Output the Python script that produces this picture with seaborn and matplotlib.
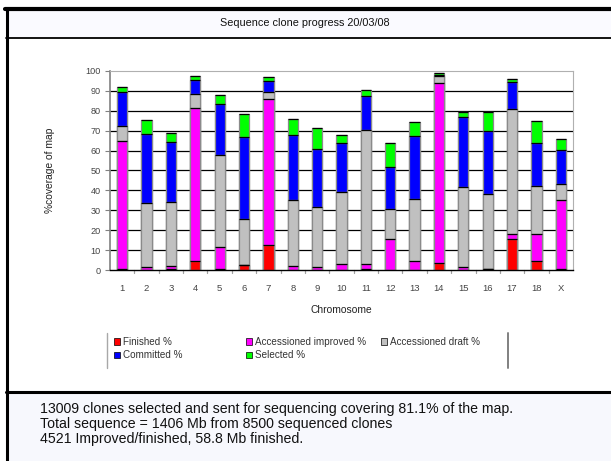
import numpy as np
import pandas as pd
import matplotlib
matplotlib.use("Agg")
import matplotlib.pyplot as plt
from matplotlib.patches import Rectangle, Patch
from matplotlib.lines import Line2D
import seaborn as sns

chromosomes = [str(i) for i in range(1, 19)] + ["X"]

finished = [0.5, 0.0, 0.5, 4.5, 0.3, 2.3, 12.6, 0.0, 0.0, 0.0, 0.5, 0.0, 0.0, 3.5, 0.0, 0.5, 15.4, 4.4, 0.3]
acc_improved = [64.2, 1.7, 1.5, 76.7, 11.4, 0.0, 73.2, 1.8, 1.5, 3.2, 2.3, 15.6, 4.4, 90.3, 1.4, 0.0, 2.5, 13.5, 34.9]
acc_draft = [7.7, 32.1, 32.3, 7.0, 46.3, 23.5, 3.5, 33.4, 30.2, 35.8, 67.4, 15.2, 31.4, 3.9, 40.2, 37.9, 63.1, 24.3, 8.2]
committed = [17.0, 34.4, 30.0, 7.4, 25.2, 40.9, 5.5, 32.5, 28.9, 24.8, 17.2, 20.8, 31.5, 0.3, 35.4, 31.3, 13.3, 21.5, 16.7]
selected = [2.4, 7.0, 4.4, 1.9, 4.8, 11.5, 2.0, 8.2, 10.9, 3.9, 3.1, 12.1, 6.9, 0.8, 2.6, 9.9, 1.7, 11.0, 5.6]

series_names = ["Finished %", "Accessioned improved %", "Accessioned draft %", "Committed %", "Selected %"]
series_colors = ["#ff0000", "#ff00ff", "#c0c0c0", "#0000ff", "#00ff00"]
y_ticks = list(range(0, 101, 10))

title_text = "Sequence clone progress 20/03/08"
footer_lines = [
    "13009 clones selected and sent for sequencing covering 81.1% of the map.",
    "Total sequence = 1406 Mb from 8500 sequenced clones",
    "4521 Improved/finished, 58.8 Mb finished.",
]

sns.set_theme(style="white")
plt.rcParams["font.family"] = ["Liberation Sans", "DejaVu Sans"]

W, H = 611, 461
fig = plt.figure(figsize=(W / 100, H / 100), dpi=100)
fig.patch.set_facecolor("white")


def fx(px):
    return px / W


def fy(py):
    return 1 - py / H


# slide-style panels: title strip and footer strip
fig.add_artist(Rectangle((fx(6), fy(38)), fx(605), fy(9) - fy(38),
                         transform=fig.transFigure, facecolor="#fafaff", edgecolor="none", zorder=0))
fig.add_artist(Rectangle((fx(6), fy(461)), fx(605), fy(392) - fy(461),
                         transform=fig.transFigure, facecolor="#f7f8fd", edgecolor="none", zorder=0))
fig.add_artist(Line2D([fx(5), 1], [fy(9), fy(9)], transform=fig.transFigure, color="black", lw=3))
fig.add_artist(Line2D([fx(6.5), fx(6.5)], [fy(9), 0], transform=fig.transFigure, color="black", lw=2.2))
fig.add_artist(Line2D([fx(6), 1], [fy(38), fy(38)], transform=fig.transFigure, color="black", lw=1.3))
fig.add_artist(Line2D([fx(6), 1], [fy(392), fy(392)], transform=fig.transFigure, color="black", lw=2.2))

fig.text(fx(305), fy(23), title_text, ha="center", va="center", fontsize=7.8, color="#111111")
for i, line in enumerate(footer_lines):
    fig.text(fx(40), fy(409 + 15 * i), line, ha="left", va="center", fontsize=10.2, color="#111111")

ax = fig.add_axes([fx(110), fy(270), fx(573) - fx(110), fy(71) - fy(270)])
ax.set_facecolor("white")

layers = np.cumsum(np.array([finished, acc_improved, acc_draft, committed, selected]), axis=0)
df = pd.DataFrame({"Chromosome": chromosomes})
for name, row in zip(series_names, layers):
    df[name] = row

# horizontal gridlines behind the bars
for t in y_ticks[1:-1]:
    ax.axhline(t, color="black", lw=0.9, zorder=0)

containers = []
for name, color in reversed(list(zip(series_names, series_colors))):
    sns.barplot(data=df, x="Chromosome", y=name, order=chromosomes, color=color,
                width=0.42, edgecolor="#8a8a8a", linewidth=0.9, saturation=1,
                ax=ax, zorder=2)
    containers.append(ax.containers[-1])

# black dividing line on top of every stacked segment
for cont in containers:
    for p in cont.patches:
        h = p.get_height()
        if h > 0:
            ax.hlines(h, p.get_x(), p.get_x() + p.get_width(), color="black", lw=0.9, zorder=3)

ax.set_ylim(0, 100)
ax.set_xlim(-0.5, len(chromosomes) - 0.5)
ax.set_yticks(y_ticks)
ax.set_yticklabels([str(t) for t in y_ticks], fontsize=6.6, color="#444444")
ax.set_xticks(range(len(chromosomes)))
ax.set_xticklabels(chromosomes, fontsize=6.8, color="#444444")
ax.tick_params(axis="x", length=0, pad=10)
ax.tick_params(axis="y", length=3.5, width=0.8, color="#808080", pad=3, left=True)
for xb in np.arange(0.5, len(chromosomes) - 0.5, 1.0):
    ax.plot([xb, xb], [0, -1.5], color="#a0a0a0", lw=0.9, clip_on=False, zorder=1)

ax.set_xlabel("Chromosome", fontsize=7.4, color="#222222", labelpad=9)
ax.set_ylabel("%coverage of map", fontsize=7.4, color="#222222", labelpad=22)

for side in ["top", "right"]:
    ax.spines[side].set_color("#b0b0b0")
    ax.spines[side].set_linewidth(0.8)
ax.spines["left"].set_color("#808080")
ax.spines["left"].set_linewidth(1.2)
ax.spines["bottom"].set_color("black")
ax.spines["bottom"].set_linewidth(1.0)

# legend laid out in three columns, row by row
handles = {n: Patch(facecolor=c, edgecolor="black", linewidth=0.5) for n, c in zip(series_names, series_colors)}
columns = [
    (118, ["Finished %", "Committed %"]),
    (250, ["Accessioned improved %", "Selected %"]),
    (385, ["Accessioned draft %"]),
]
for xpos, names in columns:
    fig.legend([handles[n] for n in names], names, loc="upper left",
               bbox_to_anchor=(fx(xpos - 4), fy(337)), frameon=False,
               fontsize=7.1, handlelength=0.65, handleheight=0.65, handletextpad=0.3,
               labelspacing=0.35, borderpad=0, borderaxespad=0, labelcolor="#333333")
fig.add_artist(Line2D([fx(107), fx(107)], [fy(333), fy(368)], transform=fig.transFigure, color="#a8a8a8", lw=1))
fig.add_artist(Line2D([fx(508), fx(508)], [fy(333), fy(368)], transform=fig.transFigure, color="#808080", lw=1.4))

fig.savefig("out.png", dpi=100)
